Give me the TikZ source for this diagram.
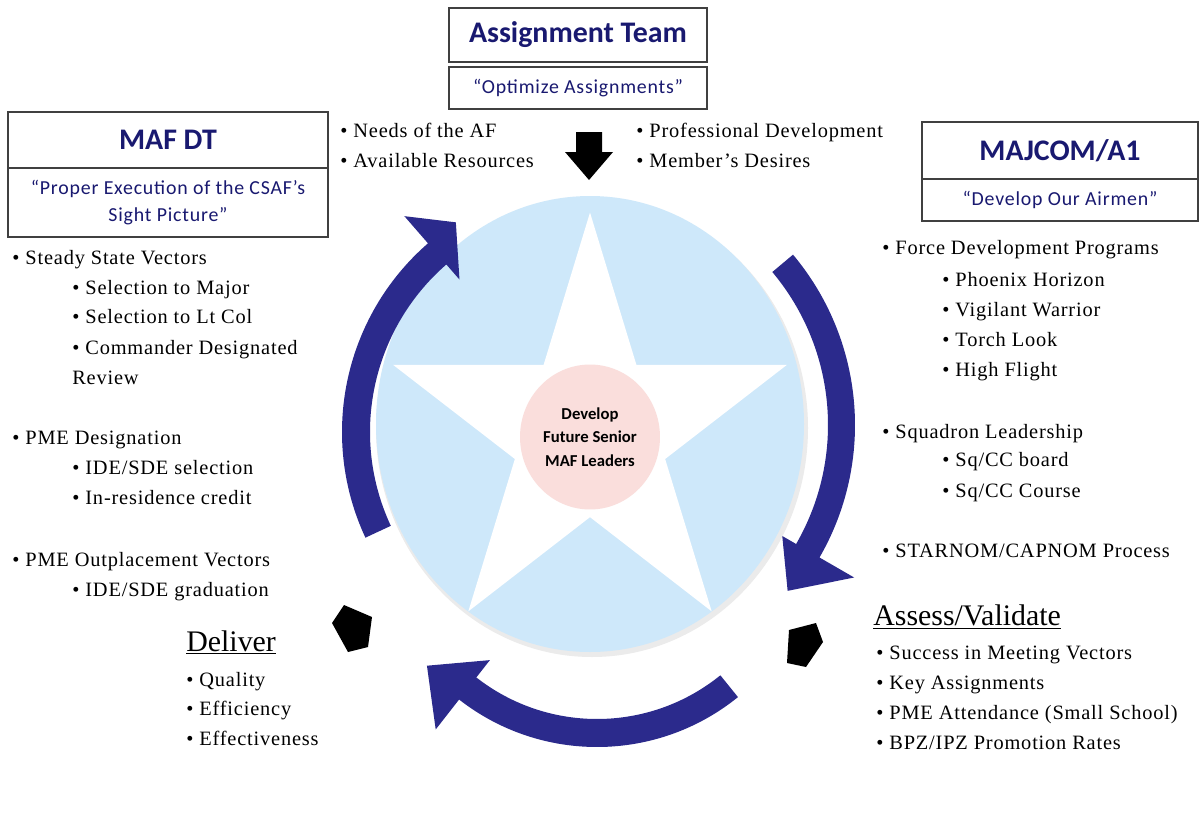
\documentclass[tikz,border=0pt]{standalone}
\usepackage{fontspec}
\setmainfont{Liberation Serif}
\newfontfamily\listfont[LetterSpace=4]{Liberation Serif}
\newfontfamily\calibri{Carlito}
\newfontfamily\calibrisp[LetterSpace=4]{Carlito}
\usepackage{tikz}
\usetikzlibrary{shapes.geometric}
\definecolor{navy}{RGB}{25,25,112}
\definecolor{arcblue}{RGB}{43,42,140}
\definecolor{skyfill}{RGB}{206,232,250}
\definecolor{pinkfill}{RGB}{250,222,220}
\tikzset{
  item/.style={anchor=base west, inner sep=0pt, font=\listfont\fontsize{11.6}{17}\selectfont},
  phase/.style={anchor=base west, inner sep=0pt, font=\fontsize{17}{20}\selectfont},
  titlebox/.style={draw=black!75, line width=0.8pt, fill=white, inner sep=0pt,
    text=navy, font=\calibri\bfseries\fontsize{17}{20}\selectfont},
  subbox/.style={draw=black!75, line width=0.8pt, fill=white, inner sep=0pt,
    text=navy, align=center, font=\calibrisp\fontsize{11.3}{15}\selectfont},
}

\begin{document}
\begin{tikzpicture}[x=0.02cm,y=0.02cm]
\useasboundingbox (0,0) rectangle (1200,-835);
\fill[white] (0,0) rectangle (1200,-835);
%
% circle and star
\fill[black!8] (592,-428) ellipse[x radius=216, y radius=229];
\fill[skyfill] (590,-424) ellipse[x radius=214, y radius=228];
\begin{scope}[shift={(590,-433)}, yscale=1.065]
\fill[white] (90:207) -- (126:79) -- (162:207) -- (198:79) -- (234:207)
  -- (270:79) -- (306:207) -- (342:79) -- (18:207) -- (54:79) -- cycle;
\end{scope}
%
% ring arrows
\begin{scope}[shift={(592,-432)}]
\fill[arcblue] (205:222) arc[start angle=205, end angle=131, radius=222]
  -- (131:202) -- (123:250) -- (131:286) -- (131:250)
  arc[start angle=131, end angle=205, radius=250] -- cycle;
\end{scope}
\begin{scope}[shift={(590,-425)}]
\fill[arcblue] (40:238) arc[start angle=40, end angle=-30, radius=238]
  -- (-30:222) -- (-40:258) -- (-30:305) -- (-30:265)
  arc[start angle=-30, end angle=40, radius=265] -- cycle;
\end{scope}
\begin{scope}[shift={(597,-523)}]
\fill[arcblue] (-51:196) arc[start angle=-51, end angle=-128, radius=196]
  -- (-128:174) -- (-140:222) -- (-128:262) -- (-128:224)
  arc[start angle=-128, end angle=-51, radius=224] -- cycle;
\end{scope}
\node[ellipse, fill=pinkfill, minimum width=2.8cm, minimum height=2.9cm, inner sep=0pt, align=center,
  font=\calibri\bfseries\fontsize{9.5}{13.3}\selectfont] (goal) at (590,-437)
  {Develop\\Future Senior\\MAF Leaders};
%
% black arrows
\fill (576,-132) -- (602,-132) -- (602,-152) -- (613,-152) -- (589,-180)
  -- (565,-152) -- (576,-152) -- cycle;
\fill (344,-605) -- (372,-617) -- (368,-647) -- (348,-652) -- (332,-623) -- cycle;
\fill (789,-630) -- (816,-623) -- (823,-642) -- (806,-667) -- (787,-663) -- cycle;
%
% boxes
\node[titlebox, minimum width=5.16cm, minimum height=1.08cm] (team) at (578,-35) {\raisebox{-2pt}{Assignment Team}};
\node[subbox, minimum width=5.16cm, minimum height=0.84cm] (teamsub) at (578,-88) {“Optimize Assignments”};
\node[titlebox, minimum width=6.4cm, minimum height=1.12cm] (mafdt) at (168,-140) {\raisebox{-2pt}{MAF DT}};
\node[subbox, minimum width=6.4cm, minimum height=1.38cm] (mafdtsub) at (168,-202.5)
  {“Proper Execution of the CSAF’s\\Sight Picture”};
\node[titlebox, minimum width=5.52cm, minimum height=1.14cm] (majcom) at (1060,-150.5) {\raisebox{-2pt}{MAJCOM/A1}};
\node[subbox, minimum width=5.52cm, minimum height=0.84cm] (majcomsub) at (1060,-200) {“Develop Our Airmen”};
%
% top lists
\node[item] (needs) at (340,-137) {• Needs of the AF};
\node[item] (resources) at (340,-167) {• Available Resources};
\node[item] (profdev) at (636,-137) {• Professional Development};
\node[item] (desires) at (636,-167) {• Member’s Desires};
%
% left list
\node[item] (steady) at (12,-264) {• Steady State Vectors};
\node[item] (major) at (72,-294) {• Selection to Major};
\node[item] (ltcol) at (72,-323) {• Selection to Lt Col};
\node[item] (cdr) at (72,-354) {• Commander Designated};
\node[item] (review) at (72,-384) {Review};
\node[item] (pmedes) at (12,-444) {• PME Designation};
\node[item] (idesel) at (72,-474) {• IDE/SDE selection};
\node[item] (inres) at (72,-504) {• In-residence credit};
\node[item] (outpl) at (12,-566) {• PME Outplacement Vectors};
\node[item] (idegrad) at (72,-596) {• IDE/SDE graduation};
%
% right list
\node[item] (fdp) at (882,-254) {• Force Development Programs};
\node[item] (phoenix) at (942,-286) {• Phoenix Horizon};
\node[item] (vigilant) at (942,-316) {• Vigilant Warrior};
\node[item] (torch) at (942,-346) {• Torch Look};
\node[item] (highflight) at (942,-376) {• High Flight};
\node[item] (sqldr) at (882,-438) {• Squadron Leadership};
\node[item] (sqboard) at (942,-466) {• Sq/CC board};
\node[item] (sqcourse) at (942,-497) {• Sq/CC Course};
\node[item] (starnom) at (882,-557) {• STARNOM/CAPNOM Process};
%
% assess / deliver
\node[phase] (assess) at (873,-625) {\underline{Assess/Validate}};
\node[item] (success) at (876,-659) {• Success in Meeting Vectors};
\node[item] (keyasg) at (876,-689) {• Key Assignments};
\node[item] (pmeatt) at (876,-719) {• PME Attendance (Small School)};
\node[item] (bpz) at (876,-749) {• BPZ/IPZ Promotion Rates};
\node[phase] (deliver) at (186,-651) {\underline{Deliver}};
\node[item] (quality) at (186,-686) {• Quality};
\node[item] (efficiency) at (186,-715) {• Efficiency};
\node[item] (effective) at (186,-745) {• Effectiveness};
\end{tikzpicture}
\end{document}
